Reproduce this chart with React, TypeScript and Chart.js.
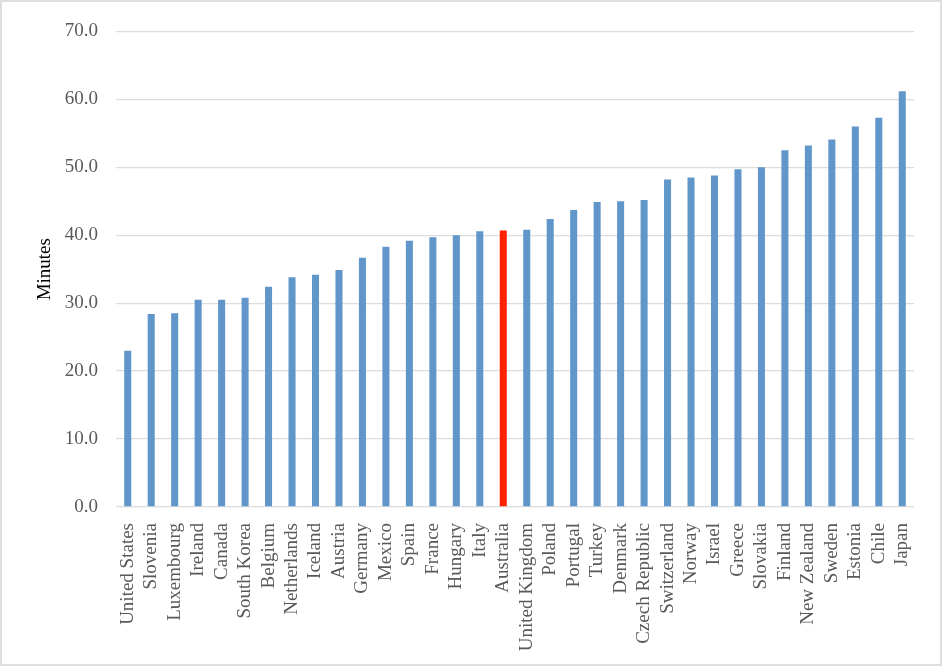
import React, { useEffect, useRef } from "react";
import Chart from "chart.js/auto";

const countries = [
  "United States", "Slovenia", "Luxembourg", "Ireland", "Canada", "South Korea",
  "Belgium", "Netherlands", "Iceland", "Austria", "Germany", "Mexico", "Spain",
  "France", "Hungary", "Italy", "Australia", "United Kingdom", "Poland", "Portugal",
  "Turkey", "Denmark", "Czech Republic", "Switzerland", "Norway", "Israel", "Greece",
  "Slovakia", "Finland", "New Zealand", "Sweden", "Estonia", "Chile", "Japan",
];

const minutes = [
  23.0, 28.4, 28.5, 30.5, 30.5, 30.8, 32.4, 33.8, 34.2, 34.9, 36.7, 38.3, 39.2,
  39.7, 40.0, 40.6, 40.7, 40.8, 42.4, 43.7, 44.9, 45.0, 45.2, 48.2, 48.5, 48.8,
  49.7, 50.0, 52.5, 53.2, 54.1, 56.0, 57.3, 61.2,
];

const highlight = "Australia";
const yTicks = [0, 10, 20, 30, 40, 50, 60, 70];

const FONT = "'Liberation Serif', 'Times New Roman', serif";

export default function App() {
  const chartRef = useRef<HTMLCanvasElement | null>(null);

  useEffect(() => {
    document.body.style.margin = "0";
    if (!chartRef.current) return;
    const chart = new Chart(chartRef.current, {
      type: "bar",
      data: {
        labels: countries,
        datasets: [
          {
            label: "Minutes",
            data: minutes,
            backgroundColor: countries.map((c) => (c === highlight ? "#ff2200" : "#6096c9")),
            barPercentage: 0.3,
            categoryPercentage: 1,
          },
        ],
      },
      options: {
        animation: false,
        responsive: false,
        layout: { padding: { top: 26, right: 26, left: 0, bottom: 0 } },
        plugins: {
          legend: { display: false },
          tooltip: { enabled: false },
        },
        scales: {
          x: {
            grid: { display: false },
            border: { display: false },
            ticks: {
              autoSkip: false,
              minRotation: 90,
              maxRotation: 90,
              padding: 8,
              color: "#595959",
              font: { family: FONT, size: 19 },
            },
            afterFit: (s: any) => {
              s.height = 157;
            },
          },
          y: {
            min: 0,
            max: 70,
            afterBuildTicks: (s: any) => {
              s.ticks = yTicks.map((v) => ({ value: v }));
            },
            grid: { color: "#dcdcdc", lineWidth: 1.3, drawTicks: false },
            border: { display: false },
            ticks: {
              padding: 18,
              color: "#595959",
              font: { family: FONT, size: 19 },
              callback: (v: any) => Number(v).toFixed(1),
            },
            title: {
              display: true,
              text: "Minutes",
              color: "#000000",
              padding: { top: 32, bottom: 0 },
              font: { family: FONT, size: 19 },
            },
            afterFit: (s: any) => {
              s.width = 114;
            },
          },
        },
      },
    });
    return () => chart.destroy();
  }, []);

  return (
    <div
      style={{
        width: 942,
        height: 666,
        border: "2px solid #dedede",
        boxSizing: "border-box",
        background: "#fff",
      }}
    >
      <canvas ref={chartRef} width={938} height={662} style={{ display: "block" }} />
    </div>
  );
}
